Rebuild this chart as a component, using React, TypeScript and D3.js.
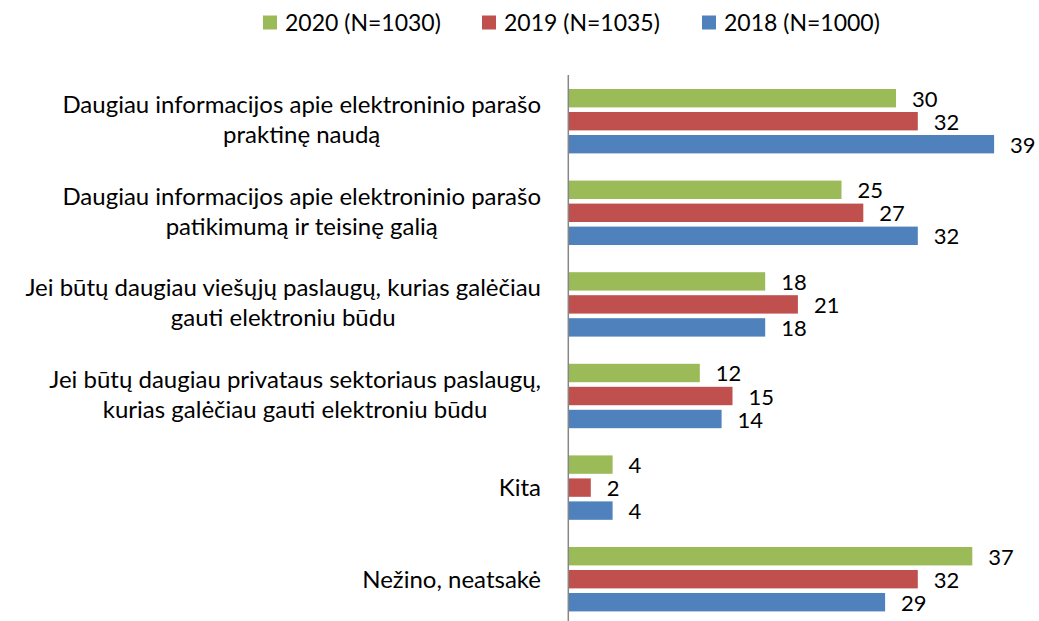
import React, { useEffect, useRef } from "react";
import * as d3 from "d3";

const categories: string[][] = [
  ["Daugiau informacijos apie elektroninio parašo", "praktinę naudą"],
  ["Daugiau informacijos apie elektroninio parašo", "patikimumą ir teisinę galią"],
  ["Jei būtų daugiau viešųjų paslaugų, kurias galėčiau", "gauti elektroniu būdu"],
  ["Jei būtų daugiau privataus sektoriaus paslaugų,", "kurias galėčiau gauti elektroniu būdu"],
  ["Kita"],
  ["Nežino, neatsakė"],
];
const seriesNames = ["2020 (N=1030)", "2019 (N=1035)", "2018 (N=1000)"];
const seriesColors = ["#9BBB59", "#C0504D", "#4F81BD"];
const values2020 = [30, 25, 18, 12, 4, 37];
const values2019 = [32, 27, 21, 15, 2, 32];
const values2018 = [39, 32, 18, 14, 4, 29];

const W = 1039;
const H = 621;
const FONT = "Lato, 'Open Sans', sans-serif";
const FS_LABEL = 24;
const FS_LEGEND = 23;
const FS_VALUE = 22;

export default function App() {
  const ref = useRef<SVGSVGElement | null>(null);
  useEffect(() => {
    const svg = d3.select(ref.current);
    svg.selectAll("*").remove();
    const series = [values2020, values2019, values2018];
    const idx = categories.map((_, i) => String(i));
    const x = d3.scaleLinear().domain([0, 40]).range([569, 1005]);
    const y = d3.scaleBand().domain(idx).range([75.7, 624.7]).paddingInner(0.2467).paddingOuter(0.12);
    const yi = d3.scaleBand().domain(["0", "1", "2"]).range([0, y.bandwidth()]).paddingInner(0.2).paddingOuter(0.1);

    const g = svg.append("g");
    categories.forEach((_, ci) => {
      series.forEach((vals, si) => {
        const top = (y(String(ci)) as number) + (yi(String(si)) as number);
        g.append("rect")
          .attr("x", x(0))
          .attr("y", top)
          .attr("width", x(vals[ci]) - x(0))
          .attr("height", yi.bandwidth())
          .attr("fill", seriesColors[si]);
        g.append("text")
          .attr("x", x(vals[ci]) + 16)
          .attr("y", top + yi.bandwidth() / 2 + 8.5)
          .attr("font-family", FONT)
          .attr("font-size", FS_VALUE)
          .attr("fill", "#000")
          .text(String(vals[ci]));
      });
    });

    // axis line
    svg.append("line")
      .attr("x1", 568.3).attr("x2", 568.3)
      .attr("y1", 75).attr("y2", H)
      .attr("stroke", "#868686").attr("stroke-width", 1.5);

    // category labels
    const rightEdge = 541;
    categories.forEach((lines, ci) => {
      const center = (y(String(ci)) as number) + y.bandwidth() / 2;
      const texts = lines.map((ln) =>
        svg.append("text")
          .attr("font-family", FONT)
          .attr("font-size", FS_LABEL)
          .attr("fill", "#000")
          .attr("text-anchor", "middle")
          .text(ln)
      );
      const widths = texts.map((t) => (t.node() as SVGTextElement).getComputedTextLength());
      const maxW = Math.max(...widths);
      const cx = rightEdge - maxW / 2;
      const lh = 30;
      const firstBase = lines.length === 1 ? center + 8.5 : center - 8;
      texts.forEach((t, li) => t.attr("x", cx).attr("y", firstBase + li * lh));
    });

    // legend
    const legendX = [263, 482, 702];
    seriesNames.forEach((name, si) => {
      svg.append("rect")
        .attr("x", legendX[si]).attr("y", 15.5)
        .attr("width", 14).attr("height", 14)
        .attr("fill", seriesColors[si]);
      svg.append("text")
        .attr("x", legendX[si] + 22).attr("y", 30.5)
        .attr("font-family", FONT).attr("font-size", FS_LEGEND)
        .attr("fill", "#000")
        .text(name);
    });
  }, []);
  return (
    <svg
      ref={ref}
      width={W}
      height={H}
      style={{ position: "absolute", left: 0, top: 0, background: "#fff" }}
    />
  );
}
